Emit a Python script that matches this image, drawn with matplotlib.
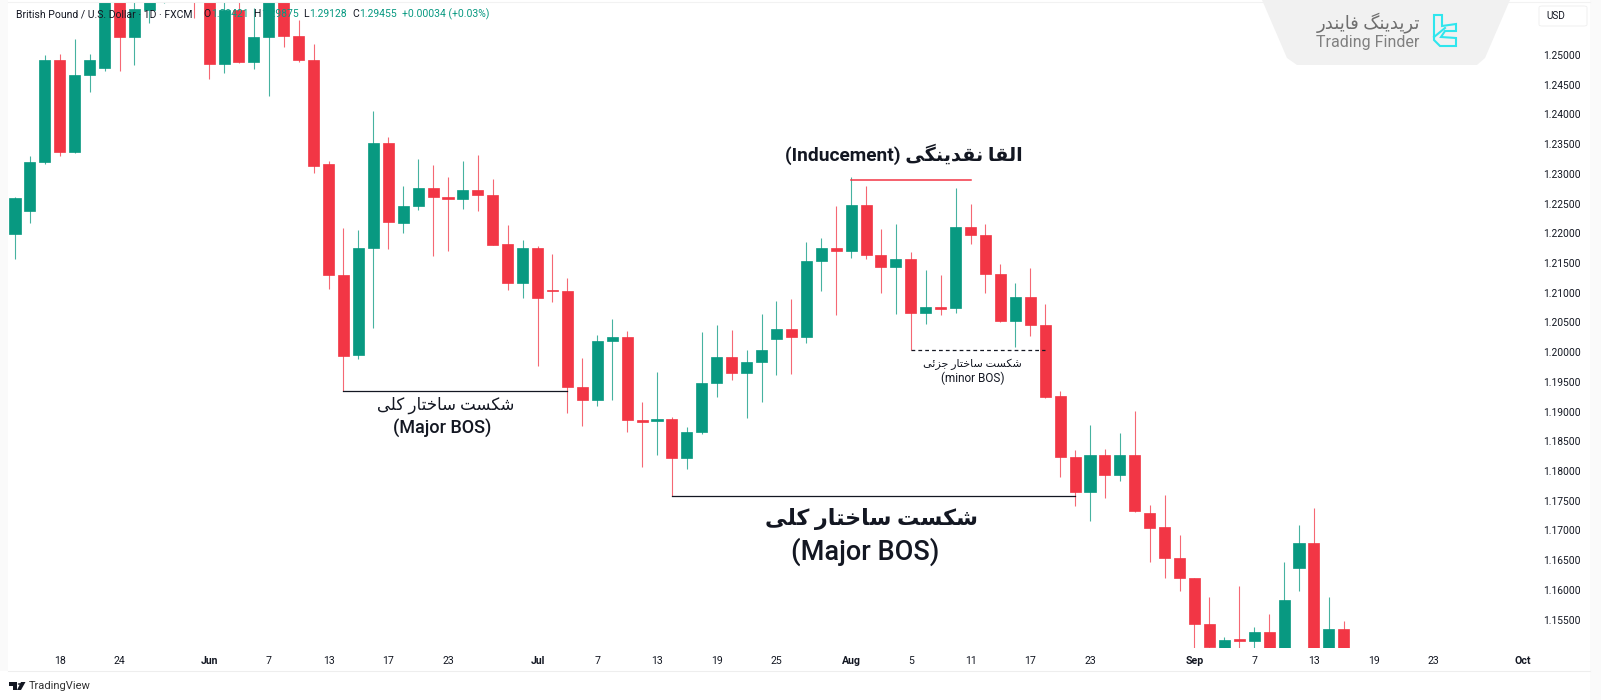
#! /usr/bin/python3

import matplotlib
matplotlib.use('Agg')
import matplotlib.pyplot as plt
from matplotlib.patches import Polygon, Rectangle, Circle, FancyBboxPatch
from matplotlib.lines import Line2D
from matplotlib.ticker import FormatStrFormatter

W, H = 1601, 700
GREEN = '#089981'
RED = '#f23645'
FONT = ['Roboto', 'DejaVu Sans']

# daily candles (anything above the top edge is a guess)
opens = [1.2199, 1.2237, 1.2320, 1.2492, 1.2337, 1.2466, 1.2478, 1.2609, 1.2530, 1.2576,
         1.2620, 1.2640, 1.2670, 1.2620, 1.2485, 1.2576, 1.2488, 1.2530, 1.2610, 1.2532,
         1.2492, 1.2317, 1.2130, 1.1995, 1.2175, 1.2352, 1.2217, 1.2246, 1.2276, 1.2261,
         1.2258, 1.2273, 1.2264, 1.2182, 1.2116, 1.2175, 1.2105, 1.2103, 1.1941, 1.1920,
         1.2019, 1.2026, 1.1886, 1.1884, 1.1888, 1.1822, 1.1866, 1.1948, 1.1992, 1.1965,
         1.1984, 1.2022, 1.2039, 1.2026, 1.2153, 1.2175, 1.2170, 1.2248, 1.2164, 1.2143,
         1.2157, 1.2066, 1.2076, 1.2074, 1.2211, 1.2197, 1.2132, 1.2052, 1.2093, 1.2046,
         1.1926, 1.1824, 1.1765, 1.1827, 1.1793, 1.1827, 1.1729, 1.1706, 1.1654, 1.1620,
         1.1543, 1.1497, 1.1517, 1.1514, 1.1529, 1.1495, 1.1637, 1.1679, 1.1495, 1.1534]
highs = [1.2261, 1.2330, 1.2500, 1.2502, 1.2527, 1.2502, 1.2613, 1.2620, 1.2610, 1.2640,
         1.2660, 1.2690, 1.2680, 1.2640, 1.2620, 1.2620, 1.2579, 1.2640, 1.2630, 1.2559,
         1.2519, 1.2322, 1.2209, 1.2206, 1.2406, 1.2362, 1.2280, 1.2325, 1.2315, 1.2295,
         1.2322, 1.2332, 1.2291, 1.2214, 1.2189, 1.2179, 1.2165, 1.2125, 1.1990, 1.2029,
         1.2056, 1.2036, 1.1916, 1.1967, 1.1891, 1.1874, 1.2034, 1.2046, 1.2037, 1.2004,
         1.2064, 1.2086, 1.2090, 1.2185, 1.2192, 1.2246, 1.2295, 1.2280, 1.2207, 1.2216,
         1.2169, 1.2138, 1.2130, 1.2276, 1.2249, 1.2216, 1.2148, 1.2116, 1.2142, 1.2081,
         1.1935, 1.1836, 1.1878, 1.1837, 1.1864, 1.1901, 1.1743, 1.1760, 1.1692, 1.1620,
         1.1588, 1.1521, 1.1607, 1.1538, 1.1559, 1.1647, 1.1709, 1.1738, 1.1588, 1.1548]
lows = [1.2157, 1.2217, 1.2317, 1.2330, 1.2335, 1.2438, 1.2473, 1.2473, 1.2483, 1.2554,
        1.2587, 1.2620, 1.2562, 1.2460, 1.2470, 1.2487, 1.2476, 1.2431, 1.2513, 1.2488,
        1.2301, 1.2106, 1.1935, 1.1989, 1.2041, 1.2174, 1.2200, 1.2239, 1.2162, 1.2170,
        1.2241, 1.2237, 1.2180, 1.2105, 1.2091, 1.1977, 1.2084, 1.1898, 1.1876, 1.1910,
        1.1920, 1.1866, 1.1807, 1.1827, 1.1758, 1.1803, 1.1862, 1.1925, 1.1953, 1.1889,
        1.1916, 1.1962, 1.1963, 1.2015, 1.2103, 1.2063, 1.2158, 1.2157, 1.2100, 1.2064,
        1.2004, 1.2047, 1.2063, 1.2066, 1.2182, 1.2100, 1.2051, 1.2009, 1.2027, 1.1923,
        1.1790, 1.1741, 1.1716, 1.1755, 1.1783, 1.1731, 1.1647, 1.1620, 1.1598, 1.1502,
        1.1502, 1.1495, 1.1495, 1.1495, 1.1490, 1.1490, 1.1598, 1.1490, 1.1490, 1.1490]
closes = [1.2259, 1.2320, 1.2492, 1.2337, 1.2466, 1.2492, 1.2609, 1.2530, 1.2577, 1.2620,
          1.2640, 1.2670, 1.2620, 1.2485, 1.2576, 1.2488, 1.2530, 1.2610, 1.2532, 1.2492,
          1.2313, 1.2130, 1.1994, 1.2175, 1.2352, 1.2219, 1.2246, 1.2276, 1.2261, 1.2258,
          1.2273, 1.2264, 1.2180, 1.2116, 1.2175, 1.2091, 1.2103, 1.1941, 1.1920, 1.2019,
          1.2026, 1.1886, 1.1883, 1.1888, 1.1822, 1.1866, 1.1948, 1.1992, 1.1965, 1.1984,
          1.2004, 1.2039, 1.2026, 1.2153, 1.2175, 1.2170, 1.2248, 1.2164, 1.2143, 1.2157,
          1.2066, 1.2076, 1.2073, 1.2211, 1.2197, 1.2132, 1.2052, 1.2093, 1.2046, 1.1925,
          1.1824, 1.1765, 1.1827, 1.1793, 1.1827, 1.1733, 1.1704, 1.1654, 1.1620, 1.1543,
          1.1504, 1.1516, 1.1514, 1.1529, 1.1495, 1.1583, 1.1679, 1.1495, 1.1534, 1.1495]

# x axis labels and the candle they sit under
date_ticks = [3, 7, 13, 17, 21, 25, 29, 35, 39, 43, 47, 51, 56, 60, 64, 68, 72, 79, 83, 87, 91, 95, 101]
date_labels = ['18', '24', 'Jun', '7', '13', '17', '23', 'Jul', '7', '13', '19', '25',
               'Aug', '5', '11', '17', '23', 'Sep', '7', '13', '19', '23', 'Oct']
month_labels = ['Jun', 'Jul', 'Aug', 'Sep', 'Oct']

price_ticks = [1.155, 1.160, 1.165, 1.170, 1.175, 1.180, 1.185, 1.190, 1.195, 1.200,
               1.205, 1.210, 1.215, 1.220, 1.225, 1.230, 1.235, 1.240, 1.245, 1.250]

# persian letters: isolated, final, initial, medial (two forms = does not join the next letter)
forms = {
    'ا': '\ufe8d\ufe8e', 'د': '\ufea9\ufeaa', 'ر': '\ufead\ufeae', 'ز': '\ufeaf\ufeb0',
    'ل': '\ufedd\ufede\ufedf\ufee0', 'ق': '\ufed5\ufed6\ufed7\ufed8',
    'ن': '\ufee5\ufee6\ufee7\ufee8', 'ی': '\ufbfc\ufbfd\ufbfe\ufbff',
    'ک': '\ufb8e\ufb8f\ufb90\ufb91', 'گ': '\ufb92\ufb93\ufb94\ufb95',
    'ش': '\ufeb5\ufeb6\ufeb7\ufeb8', 'س': '\ufeb1\ufeb2\ufeb3\ufeb4',
    'ت': '\ufe95\ufe96\ufe97\ufe98', 'خ': '\ufea5\ufea6\ufea7\ufea8',
    'ج': '\ufe9d\ufe9e\ufe9f\ufea0', 'ئ': '\ufe89\ufe8a\ufe8b\ufe8c',
    'ف': '\ufed1\ufed2\ufed3\ufed4',
}


# matplotlib does no arabic shaping, so pick the joined forms and reverse by hand
def fa(text):
    out = []
    for i, c in enumerate(text):
        if c not in forms:
            out.append(c)
            continue
        before = i > 0 and text[i - 1] in forms and len(forms[text[i - 1]]) == 4
        after = i < len(text) - 1 and text[i + 1] in forms and len(forms[c]) == 4
        if before and after:
            out.append(forms[c][3])
        elif before:
            out.append(forms[c][1])
        elif after:
            out.append(forms[c][2])
        else:
            out.append(forms[c][0])
    return ''.join(reversed(out))


def fx(x):
    return x / W


def fy(y):
    return 1 - y / H


def label(x, y, s, size, color='#131722', weight='normal', ha='center'):
    return fig.text(fx(x), fy(y), s, fontsize=size, color=color, weight=weight, ha=ha,
                    va='center', family=FONT)


def shape(pts, **kw):
    fig.add_artist(Polygon([(fx(a), fy(b)) for a, b in pts], transform=fig.transFigure, **kw))


fig = plt.figure(figsize=(W / 100, H / 100), dpi=100, facecolor='white')

# pale frame around the pane
fig.add_artist(Rectangle((0, fy(671)), fx(8), 671 / H, transform=fig.transFigure, fc='#fafafa', ec='none'))
fig.add_artist(Rectangle((fx(1590), 0), 11 / W, 1, transform=fig.transFigure, fc='#fafafa', ec='none'))
fig.add_artist(Line2D([fx(8), fx(1590)], [fy(671), fy(671)], color='#eeeeee', lw=0.8))
fig.add_artist(Line2D([fx(8), fx(1590)], [fy(2), fy(2)], color='#f2f2f2', lw=0.8))

ax = fig.add_axes([fx(8), fy(648), (1537 - 8) / W, (648 - 2) / H])
for s in ax.spines.values():
    s.set_visible(False)

x = list(range(len(opens)))
colors = [GREEN if c >= o else RED for o, c in zip(opens, closes)]
ax.vlines(x, lows, highs, colors=colors, lw=0.8, zorder=2, alpha=0.75)
ax.bar(x, [abs(c - o) for o, c in zip(opens, closes)], bottom=[min(o, c) for o, c in zip(opens, closes)],
       width=0.74, color=colors, edgecolor=colors, linewidth=0.5, zorder=3)

ax.set_xlim(-0.469, 101.94)
ax.set_ylim(1.15023, 1.25892)

ax.yaxis.tick_right()
ax.set_yticks(price_ticks)
ax.yaxis.set_major_formatter(FormatStrFormatter('%.5f'))
ax.tick_params(axis='y', length=0, pad=4.5, labelsize=7.4, labelcolor='#131722')
ax.set_xticks(date_ticks)
ax.set_xticklabels(date_labels)
ax.tick_params(axis='x', length=0, pad=6, labelsize=7.6, labelcolor='#131722')
for t in ax.get_xticklabels() + ax.get_yticklabels():
    t.set_family(FONT)
    if t.get_text() in month_labels:
        t.set_fontweight('bold')

# structure lines
ax.plot([22, 37], [1.1935, 1.1935], color='#131722', lw=0.9, zorder=4)
ax.plot([44, 71], [1.1758, 1.1758], color='#131722', lw=0.9, zorder=4)
ax.plot([56, 64], [1.2290, 1.2290], color=RED, lw=1.1, zorder=4)
ax.plot([60, 69], [1.2004, 1.2004], color='#131722', lw=0.9, ls=(0, (3, 2.5)), zorder=4)

# header, printed over the candles
header = [(16, 'British Pound / U.S. Dollar · 1D · FXCM', '#131722'), (203, 'O', '#131722'), (211, '1.29421', GREEN),
          (253, 'H', '#131722'), (261, '1.29875', GREEN), (303, 'L', '#131722'), (309, '1.29128', GREEN),
          (352, 'C', '#131722'), (359, '1.29455', GREEN), (402, '+0.00034 (+0.03%)', GREEN)]
for hx, s, c in header:
    ax.text(fx(hx), fy(14), s, transform=fig.transFigure, fontsize=7.5, color=c, va='center', family=FONT,
            zorder=6, clip_on=False)

# annotations
label(904, 154, '(Inducement) ' + fa('القا نقدینگی'), 13.8, weight='bold')
label(446, 405, fa('شکست ساختار کلی'), 12, weight='medium')
label(442, 428, '(Major BOS)', 13, weight='medium')
label(871, 519, fa('شکست ساختار کلی'), 16, weight='bold')
label(865, 552, '(Major BOS)', 19.5, weight='medium')
label(972, 364, fa('شکست ساختار جزئی'), 8)
label(973, 378, '(minor BOS)', 8.5)

# logo tab
tab = [(1262, 0), (1510, 0), (1485, 58), (1477, 65), (1297, 65), (1287, 58)]
shape(tab, fc='#f1f1f1', ec='none', zorder=5)
label(1368, 23, fa('تریدینگ فایندر'), 13, color='#6e6e6e').set_zorder(6)
label(1368, 43, 'Trading Finder', 11.5, color='#808080').set_zorder(6)
icon = [(1434, 15), (1442, 15), (1442, 26), (1456, 24), (1456, 31), (1445, 31), (1441, 37), (1456, 38),
        (1456, 46), (1440, 46), (1434, 40)]
shape(icon, fc='none', ec='#2fe6ee', lw=1.5, zorder=6)
fig.add_artist(Line2D([fx(1434), fx(1445)], [fy(37), fy(28)], color='#2fe6ee', lw=1.5, zorder=6))

# currency box
fig.add_artist(FancyBboxPatch((fx(1539), fy(26)), 48 / W, 20 / H, boxstyle='round,pad=0,rounding_size=0.002',
                              transform=fig.transFigure, fc='white', ec='#eeeeee', lw=0.6))
label(1546, 16, 'USD', 7.2, ha='left')

# tradingview mark
shape([(9, 682), (17, 682), (17, 690), (13, 690), (13, 686), (9, 686)], fc='#131722', ec='none')
fig.add_artist(Circle((fx(19.5), fy(684)), 1.8 / W, transform=fig.transFigure, fc='#131722', ec='none'))
shape([(21, 682), (25.5, 682), (21, 690), (17, 690)], fc='#131722', ec='none')
label(29, 686, 'TradingView', 8, color='#333333', ha='left')

fig.savefig('out.png', dpi=100)
